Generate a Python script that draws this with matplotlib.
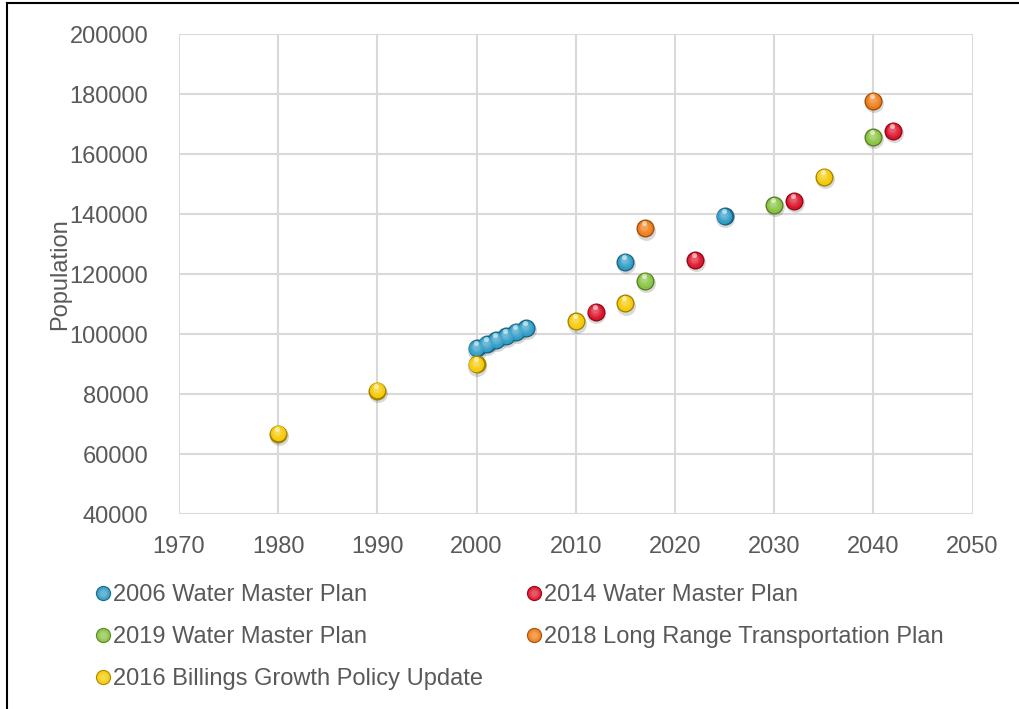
import numpy as np
import matplotlib
matplotlib.use("Agg")
import matplotlib.pyplot as plt
from matplotlib.lines import Line2D
from matplotlib.legend_handler import HandlerTuple
from matplotlib.transforms import offset_copy
from matplotlib.colors import to_rgb

plt.rcParams["font.family"] = ["Liberation Sans", "DejaVu Sans"]
TEXT = "#595959"

# population projections by plan
wmp2006_years = [2000, 2001, 2002, 2003, 2004, 2005, 2015, 2025]
wmp2006_pop = [95200, 96600, 98000, 99300, 100700, 102000, 124100, 139300]

wmp2014_years = [2012, 2022, 2032, 2042]
wmp2014_pop = [107400, 124600, 144400, 167700]

wmp2019_years = [2017, 2030, 2040]
wmp2019_pop = [117700, 143000, 165600]

lrtp2018_years = [2017, 2040]
lrtp2018_pop = [135200, 177700]

growth2016_years = [1980, 1990, 2000, 2010, 2015, 2035]
growth2016_pop = [66800, 81150, 89850, 104200, 110200, 152400]

series = [
    ("2006 Water Master Plan", wmp2006_years, wmp2006_pop, "#2b9ac4"),
    ("2014 Water Master Plan", wmp2014_years, wmp2014_pop, "#dc1028"),
    ("2019 Water Master Plan", wmp2019_years, wmp2019_pop, "#86c23c"),
    ("2018 Long Range Transportation Plan", lrtp2018_years, lrtp2018_pop, "#ee7a12"),
    ("2016 Billings Growth Policy Update", growth2016_years, growth2016_pop, "#f5c800"),
]

x_ticks = [1970, 1980, 1990, 2000, 2010, 2020, 2030, 2040, 2050]
y_ticks = [40000, 60000, 80000, 100000, 120000, 140000, 160000, 180000, 200000]


def mix(c, other, t):
    c = np.array(to_rgb(c))
    o = np.array(to_rgb(other))
    return tuple(c * (1 - t) + o * t)


def sphere(ax, x, y, color, d=13.0):
    fig = ax.figure
    # soft drop shadow
    sh = offset_copy(ax.transData, fig=fig, x=0.6, y=-1.6, units="points")
    ax.scatter(x, y, s=(d * 1.05) ** 2, color="k", alpha=0.15, lw=0,
               transform=sh, zorder=3)
    # darker rim then lighter layers drifting towards the top
    ax.scatter(x, y, s=d ** 2, color=mix(color, "k", 0.35), lw=0, zorder=4)
    n = 9
    for k in range(n):
        f = (k + 1) / n
        tr = offset_copy(ax.transData, fig=fig, x=-0.8 * f, y=1.4 * f,
                         units="points")
        ax.scatter(x, y, s=(d * (0.92 - 0.6 * f)) ** 2,
                   color=mix(color, "w", 0.32 * f ** 1.5), lw=0,
                   transform=tr, zorder=4)
    hl = offset_copy(ax.transData, fig=fig, x=-0.7, y=3.6, units="points")
    ax.scatter(x, y, s=(d * 0.28) ** 2, color="w", alpha=0.55, lw=0,
               transform=hl, zorder=5)


fig = plt.figure(figsize=(10.2, 7.09), dpi=100)
ax = fig.add_axes([0.1755, 0.275, 0.778, 0.677])

for name, xs, ys, col in series:
    sphere(ax, xs, ys, col)

ax.set_xlim(1970, 2050)
ax.set_ylim(40000, 200000)
ax.set_xticks(x_ticks)
ax.set_yticks(y_ticks)
ax.set_xticklabels([str(v) for v in x_ticks])
ax.set_yticklabels([str(v) for v in y_ticks])
ax.tick_params(length=0, labelsize=17, labelcolor=TEXT)
ax.tick_params(axis="y", pad=22)
ax.tick_params(axis="x", pad=16)
ax.grid(True, color="#d9d9d9", lw=1.5)
ax.set_axisbelow(True)
for sp in ax.spines.values():
    sp.set_visible(False)

ax.set_ylabel("Population", fontsize=17, color=TEXT)
ax.yaxis.set_label_coords(-0.136, 0.5)

# legend entries as stacked circles for a shaded look
handles = []
for name, xs, ys, col in series:
    layers = [Line2D([], [], ls="", marker="o", ms=11, mec="none",
                     mfc=mix(col, "k", 0.3))]
    for k in range(5):
        f = (k + 1) / 5
        layers.append(Line2D([], [], ls="", marker="o", ms=11 * (0.97 - 0.6 * f),
                             mec="none", mfc=mix(col, "w", 0.3 * f)))
    handles.append(tuple(layers))
labels = [s[0] for s in series]
order = [0, 2, 4, 1, 3]
fig.legend([handles[i] for i in order], [labels[i] for i in order],
           handler_map={tuple: HandlerTuple(ndivide=1, pad=0)},
           loc="upper left", bbox_to_anchor=(0.093, 0.176), ncol=2,
           frameon=False, fontsize=17, labelcolor=TEXT, borderpad=0,
           handlelength=0.7, handletextpad=0.08, columnspacing=1.79,
           labelspacing=0.85, borderaxespad=0)

# black frame on the left and top edges
fig.add_artist(Line2D([0.0065, 0.0065], [0, 0.996], color="k", lw=1.5,
                      transform=fig.transFigure))
fig.add_artist(Line2D([0.0065, 1.0], [0.996, 0.996], color="k", lw=1.5,
                      transform=fig.transFigure))

fig.savefig("out.png", dpi=100)
